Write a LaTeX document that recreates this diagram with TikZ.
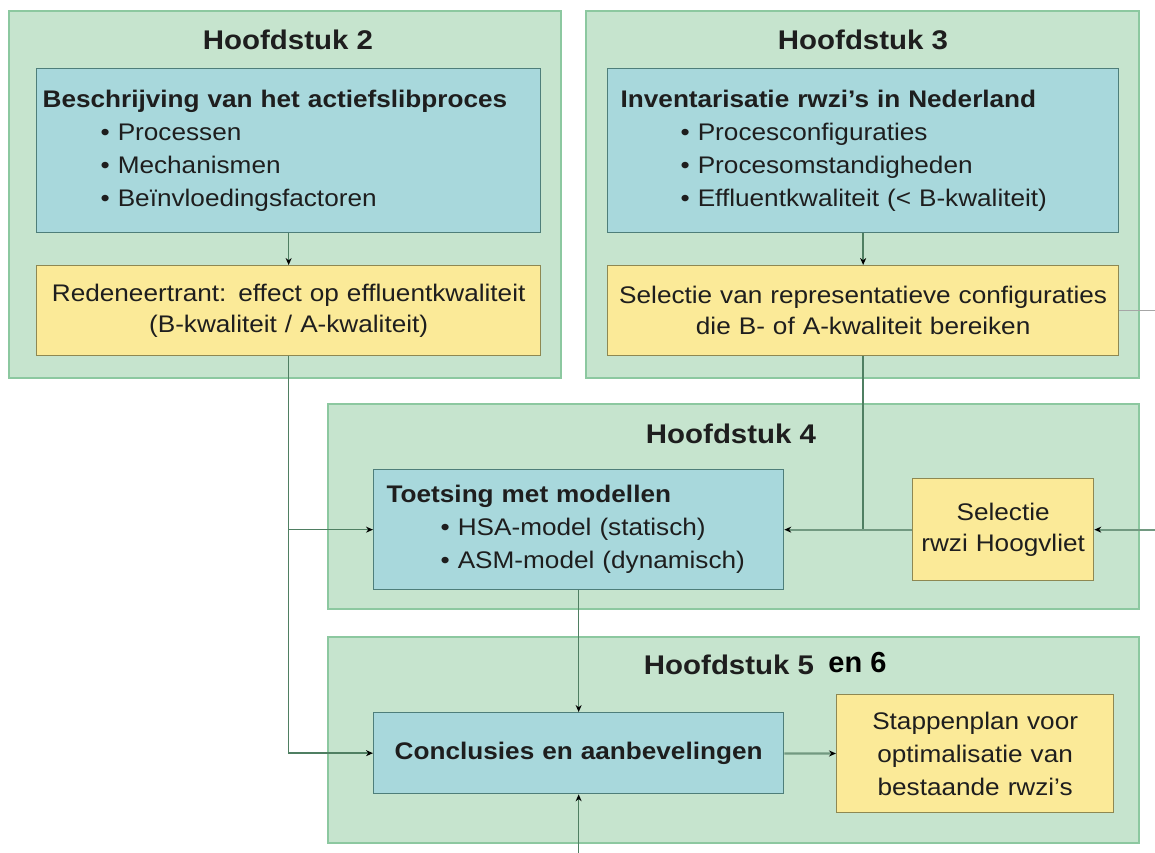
\documentclass[tikz,border=0pt]{standalone}
\usepackage{fontspec}
\setmainfont[FakeStretch=1.09]{Liberation Sans}
\newfontfamily\enfont{Liberation Sans}
\usetikzlibrary{arrows.meta,positioning}
\definecolor{panelfill}{HTML}{C6E4CE}
\definecolor{paneldraw}{HTML}{8CC8A0}
\definecolor{bluefill}{HTML}{A8D8DC}
\definecolor{bluedraw}{HTML}{4E7E7A}
\definecolor{yelfill}{HTML}{FBEA98}
\definecolor{yeldraw}{HTML}{8E8852}
\definecolor{wirecol}{HTML}{4F7F62}
\definecolor{inkcol}{HTML}{1E1E1E}
\tikzset{
  panel/.style={draw=paneldraw, fill=panelfill, line width=1.5pt, anchor=north west, inner sep=0pt},
  bluebox/.style={draw=bluedraw, fill=bluefill, line width=1.3pt, anchor=north west, inner ysep=0pt,
    align=left, text=inkcol, font=\fontsize{24}{33}\selectfont},
  yelbox/.style={draw=yeldraw, fill=yelfill, line width=1.3pt, anchor=north west, inner ysep=0pt,
    align=center, text=inkcol, font=\fontsize{24}{31}\selectfont},
  chaptitle/.style={font=\bfseries\fontsize{27}{30}\selectfont, text=inkcol, inner sep=0pt},
  wire/.style={draw=wirecol, line width=1.5pt},
  thickwire/.style={draw=wirecol!80, line width=2.2pt}
}
\newcommand{\itm}[1]{\hspace*{#1pt}• }
\begin{document}
\begin{tikzpicture}[x=1pt, y=-1pt, >={Stealth[length=7pt,width=6pt,color=black]}]
\useasboundingbox (0,0) rectangle (1155,852);
% hoofdstuk 2
\node[panel, minimum width=552, minimum height=367] (h2) at (8,10) {};
\node[chaptitle] (t2) at (288,40) {Hoofdstuk 2};
\node[bluebox, inner xsep=6pt, text width=492pt, minimum height=164] (blue2) at (36,68)
  {\textbf{Beschrijving van het actiefslibproces}\\
   \itm{58}Processen\\ \itm{58}Mechanismen\\ \itm{58}Beïnvloedingsfactoren};
\node[yelbox, inner xsep=6pt, text width=492pt, minimum height=90] (yel2) at (36,265)
  {Redeneertrant: effect op effluentkwaliteit\\(B-kwaliteit / A-kwaliteit)};
% hoofdstuk 3
\node[panel, minimum width=553, minimum height=367] (h3) at (585,10) {};
\node[chaptitle] (t3) at (863,40) {Hoofdstuk 3};
\node[bluebox, inner xsep=13pt, text width=485pt, minimum height=164] (blue3) at (607,68)
  {\textbf{Inventarisatie rwzi's in Nederland}\\
   \itm{60}Procesconfiguraties\\ \itm{60}Procesomstandigheden\\ \itm{60}Effluentkwaliteit (< B-kwaliteit)};
\node[yelbox, inner xsep=6pt, text width=499pt, minimum height=90] (yel3) at (607,265)
  {Selectie van representatieve configuraties\\die B- of A-kwaliteit bereiken};
% hoofdstuk 4
\node[panel, minimum width=811, minimum height=205] (h4) at (327,403) {};
\node[chaptitle] (t4) at (731,434) {Hoofdstuk 4};
\node[bluebox, inner xsep=13pt, text width=384pt, minimum height=120] (blue4) at (373,469)
  {\textbf{Toetsing met modellen}\\
   \itm{54}HSA-model (statisch)\\ \itm{54}ASM-model (dynamisch)};
\node[yelbox, inner xsep=4pt, text width=173pt, minimum height=102] (yel4) at (912,478)
  {Selectie\\rwzi Hoogvliet};
% hoofdstuk 5 en 6
\node[panel, minimum width=811, minimum height=206] (h5) at (327,636) {};
\node[chaptitle] (t5) at (729,665) {Hoofdstuk 5};
\node[font=\enfont\bfseries\fontsize{29}{30}\selectfont, inner sep=0pt, right=14pt of t5, yshift=2pt] (t5b) {en 6};
\node[bluebox, align=center, inner xsep=13pt, text width=384pt, minimum height=81] (blue5) at (373,712)
  {\textbf{Conclusies en aanbevelingen}};
\node[yelbox, inner xsep=6pt, text width=265pt, minimum height=118, font=\fontsize{24}{33}\selectfont] (yel5) at (836,694)
  {Stappenplan voor\\optimalisatie van\\bestaande rwzi's};
% verbindingen
\path (yel3.east) ++(37,0) coordinate (outR);
\path (yel4.east) ++(62,0) coordinate (inR);
\path (blue5.south) ++(0,60) coordinate (inB);
\draw[wire,->] (blue2) -- (yel2);
\draw[wire,->] (blue3) -- (yel3);
\draw[wire,->] (yel2.south) |- (blue4.west);
\draw[wire,->] (yel2.south) |- (blue5.west);
\draw[wire] (yel3.south) -- (yel3.south |- yel4.west);
\draw[thickwire,->] (yel4.west) -- (blue4.east);
\draw[thickwire,->] (inR) -- (yel4.east);
\draw[wire, draw=gray!70] (yel3.east) -- (outR);
\draw[wire,->] (blue4) -- (blue5);
\draw[thickwire,->] (blue5) -- (yel5);
\draw[wire,->] (inB) -- (blue5.south);
\end{tikzpicture}
\end{document}
